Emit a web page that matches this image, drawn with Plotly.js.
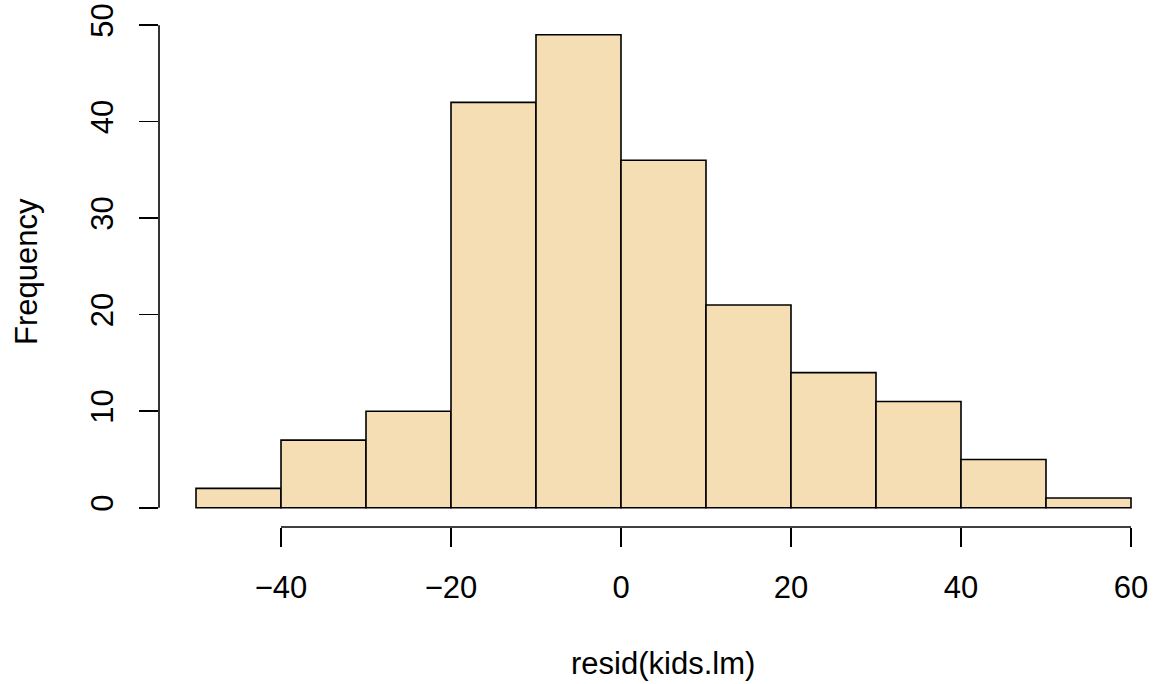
<!DOCTYPE html>
<html>
<head>
<meta charset="utf-8">
<script src="https://cdn.plot.ly/plotly-3.0.1.min.js"></script>
<style>html,body{margin:0;padding:0;background:#fff;}#chart{width:1155px;height:684px;}</style>
</head>
<body>
<div id="chart"></div>
<script>
// Histogram of resid(kids.lm)
var breaks = [-50, -40, -30, -20, -10, 0, 10, 20, 30, 40, 50, 60];
var counts = [2, 7, 10, 42, 49, 36, 21, 14, 11, 5, 1];
var xTickVals = [-40, -20, 0, 20, 40, 60];
var xTickText = ["\u221240", "\u221220", "0", "20", "40", "60"];
var yTickVals = [0, 10, 20, 30, 40, 50];
var yTickText = ["0", "10", "20", "30", "40", "50"];
var xTitle = "resid(kids.lm)";
var yTitle = "Frequency";

var mids = [], widths = [];
for (var i = 0; i < counts.length; i++) {
  mids.push((breaks[i] + breaks[i + 1]) / 2);
  widths.push(breaks[i + 1] - breaks[i]);
}

var font = {family: "Liberation Sans, Arial, sans-serif", size: 31, color: "#000"};

var trace = {
  type: "bar",
  x: mids,
  y: counts,
  width: widths,
  marker: {color: "#F5DEB3", line: {color: "#000", width: 1.6}},
  hoverinfo: "skip"
};

var layout = {
  width: 1155, height: 684,
  margin: {l: 159, r: 5, t: 16, b: 157, pad: 0},
  paper_bgcolor: "#fff", plot_bgcolor: "#fff",
  showlegend: false,
  font: font,
  bargap: 0,
  xaxis: {
    range: [-54.353, 62.235], autorange: false,
    showgrid: false, zeroline: false, showline: false,
    tickmode: "array", tickvals: xTickVals, ticktext: xTickText,
    ticks: "outside", ticklen: 19, tickwidth: 1.6, tickcolor: "#000",
    tickfont: font, ticklabelstandoff: 14
  },
  yaxis: {
    range: [-2.0, 50.95], autorange: false,
    showgrid: false, zeroline: false, showline: false,
    tickmode: "array", tickvals: yTickVals, ticktext: yTickText,
    ticks: "outside", ticklen: 19, tickwidth: 1.6, tickcolor: "#000",
    tickangle: -90, tickfont: font, ticklabelstandoff: 14
  },
  shapes: [
    {type: "line", xref: "x", yref: "paper", x0: xTickVals[0], x1: xTickVals[xTickVals.length - 1], y0: 0, y1: 0,
     line: {color: "#000", width: 1.6}},
    {type: "line", xref: "paper", yref: "y", x0: 0, x1: 0, y0: yTickVals[0], y1: yTickVals[yTickVals.length - 1],
     line: {color: "#000", width: 1.6}}
  ],
  annotations: [
    {text: xTitle, xref: "paper", yref: "paper", x: 0.509, y: -0.268, xanchor: "center", yanchor: "middle",
     showarrow: false, font: font},
    {text: yTitle, xref: "paper", yref: "paper", x: -0.1332, y: 0.501, xanchor: "center", yanchor: "middle",
     textangle: -90, showarrow: false, font: font}
  ]
};

Plotly.newPlot("chart", [trace], layout, {displayModeBar: false, staticPlot: true});
</script>
</body>
</html>
